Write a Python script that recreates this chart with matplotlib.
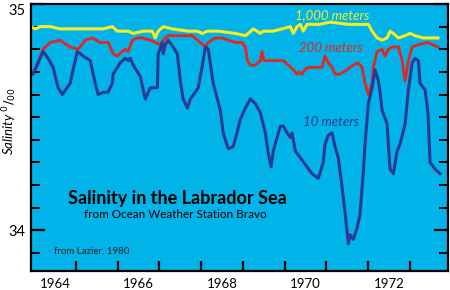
import numpy as np
import matplotlib.pyplot as plt

plt.rcParams['font.family'] = ['Lato', 'DejaVu Sans']

# 10 m series (year, salinity)
yr_10 = [1963.42, 1963.47, 1963.59, 1963.71, 1963.83, 1963.95, 1964.07, 1964.17, 1964.36, 1964.43,
         1964.53, 1964.67, 1964.84, 1964.96, 1965.03, 1965.15, 1965.27, 1965.37, 1965.39, 1965.56,
         1965.68, 1965.75, 1965.80, 1965.87, 1966.04, 1966.16, 1966.28, 1966.35, 1966.45, 1966.47,
         1966.57, 1966.59, 1966.64, 1966.71, 1966.83, 1966.93, 1967.00, 1967.07, 1967.17, 1967.24,
         1967.36, 1967.43, 1967.53, 1967.60, 1967.67, 1967.79, 1967.96, 1968.03, 1968.15, 1968.27,
         1968.36, 1968.44, 1968.56, 1968.68, 1968.80, 1968.92, 1969.04, 1969.11, 1969.18, 1969.23,
         1969.32, 1969.40, 1969.47, 1969.56, 1969.64, 1969.68, 1969.76, 1969.88, 1970.04, 1970.16,
         1970.31, 1970.43, 1970.47, 1970.55, 1970.64, 1970.71, 1970.79, 1970.88, 1970.95, 1971.03,
         1971.07, 1971.15, 1971.24, 1971.31, 1971.39, 1971.43, 1971.51, 1971.60, 1971.67, 1971.75,
         1971.79, 1971.84, 1971.96, 1971.99, 1972.03, 1972.11, 1972.20, 1972.27, 1972.39, 1972.47,
         1972.56, 1972.63, 1972.71, 1972.75, 1972.87, 1972.94, 1972.99, 1973.11, 1973.23]
sal_10 = [34.69, 34.69, 34.74, 34.79, 34.76, 34.72, 34.63, 34.60, 34.65, 34.71,
          34.79, 34.77, 34.75, 34.65, 34.60, 34.61, 34.61, 34.65, 34.69, 34.74,
          34.76, 34.75, 34.76, 34.73, 34.68, 34.58, 34.63, 34.63, 34.63, 34.78,
          34.83, 34.78, 34.82, 34.84, 34.81, 34.78, 34.66, 34.58, 34.54, 34.58,
          34.61, 34.63, 34.73, 34.81, 34.80, 34.65, 34.53, 34.43, 34.36, 34.37,
          34.43, 34.49, 34.54, 34.58, 34.56, 34.52, 34.43, 34.34, 34.28, 34.35,
          34.41, 34.46, 34.46, 34.43, 34.41, 34.43, 34.35, 34.32, 34.28, 34.25,
          34.23, 34.30, 34.38, 34.42, 34.43, 34.37, 34.32, 34.19, 34.08, 33.94,
          33.98, 33.96, 34.01, 34.07, 34.26, 34.38, 34.56, 34.63, 34.71, 34.66,
          34.61, 34.53, 34.47, 34.38, 34.27, 34.25, 34.35, 34.38, 34.47, 34.62,
          34.74, 34.76, 34.75, 34.65, 34.62, 34.52, 34.30, 34.27, 34.25]

# 200 m series
yr_200 = [1963.42, 1963.52, 1963.71, 1963.88, 1964.12, 1964.19, 1964.36, 1964.55, 1964.72, 1964.89,
          1965.08, 1965.27, 1965.39, 1965.49, 1965.61, 1965.68, 1965.75, 1965.85, 1965.97, 1966.09,
          1966.28, 1966.40, 1966.52, 1966.64, 1966.71, 1966.95, 1967.29, 1967.48, 1967.60, 1967.67,
          1967.84, 1968.00, 1968.15, 1968.32, 1968.48, 1968.56, 1968.61, 1968.68, 1968.80, 1968.92,
          1968.96, 1969.01, 1969.11, 1969.47, 1969.59, 1969.71, 1969.80, 1969.85, 1969.92, 1969.99,
          1970.07, 1970.28, 1970.40, 1970.47, 1970.55, 1970.64, 1970.71, 1970.83, 1971.00, 1971.15,
          1971.27, 1971.36, 1971.43, 1971.51, 1971.60, 1971.63, 1971.72, 1971.84, 1971.91, 1971.99,
          1972.08, 1972.23, 1972.32, 1972.39, 1972.47, 1972.56, 1972.71, 1972.92, 1973.06, 1973.18]
sal_200 = [34.69, 34.71, 34.80, 34.83, 34.84, 34.83, 34.81, 34.80, 34.84, 34.85,
           34.83, 34.83, 34.78, 34.77, 34.79, 34.80, 34.79, 34.84, 34.85, 34.85,
           34.84, 34.83, 34.82, 34.85, 34.86, 34.86, 34.86, 34.83, 34.81, 34.83,
           34.85, 34.85, 34.84, 34.83, 34.83, 34.81, 34.75, 34.73, 34.73, 34.75,
           34.79, 34.75, 34.75, 34.75, 34.73, 34.71, 34.69, 34.70, 34.69, 34.71,
           34.72, 34.72, 34.72, 34.77, 34.74, 34.72, 34.69, 34.69, 34.71, 34.73,
           34.74, 34.72, 34.65, 34.60, 34.65, 34.72, 34.79, 34.80, 34.77, 34.80,
           34.81, 34.81, 34.75, 34.66, 34.75, 34.81, 34.82, 34.83, 34.82, 34.81]

# 1,000 m series
yr_1000 = [1963.42, 1963.52, 1963.64, 1963.88, 1964.12, 1964.84, 1965.01, 1965.15, 1965.37, 1965.49,
           1965.61, 1965.75, 1965.87, 1966.11, 1966.33, 1966.40, 1966.47, 1966.59, 1966.81, 1967.19,
           1967.41, 1967.53, 1967.65, 1967.91, 1968.32, 1968.56, 1968.63, 1968.75, 1968.84, 1968.92,
           1968.99, 1969.11, 1969.23, 1969.44, 1969.64, 1969.71, 1969.80, 1969.88, 1969.95, 1970.04,
           1970.35, 1970.59, 1971.03, 1971.51, 1971.60, 1971.72, 1971.84, 1971.96, 1972.03, 1972.11,
           1972.23, 1972.39, 1972.51, 1972.63, 1972.82, 1973.18]
sal_1000 = [34.90, 34.89, 34.90, 34.90, 34.89, 34.89, 34.89, 34.89, 34.90, 34.88,
            34.88, 34.88, 34.87, 34.88, 34.88, 34.85, 34.88, 34.90, 34.89, 34.88,
            34.88, 34.87, 34.88, 34.88, 34.87, 34.86, 34.87, 34.89, 34.88, 34.87,
            34.88, 34.88, 34.88, 34.89, 34.90, 34.87, 34.90, 34.91, 34.88, 34.91,
            34.91, 34.92, 34.91, 34.91, 34.88, 34.85, 34.84, 34.85, 34.88, 34.87,
            34.85, 34.86, 34.87, 34.86, 34.85, 34.85]

year_labels = [1964, 1966, 1968, 1970, 1972]

bg = '#00B3E9'
yellow = '#F7EE1E'
red = '#E5261F'
navy = '#2B3A94'

fig = plt.figure(figsize=(4.5, 2.9), dpi=100)
ax = fig.add_axes([31/450, 19/290, 417/450, 267/290])
ax.set_facecolor(bg)

ax.plot(yr_1000, sal_1000, color=yellow, lw=2.2, solid_joinstyle='round')
ax.plot(yr_200, sal_200, color=red, lw=2.0, solid_joinstyle='round')
ax.plot(yr_10, sal_10, color=navy, lw=2.2, solid_joinstyle='round')

ax.set_xlim(1963.42, 1973.42)
ax.set_ylim(33.82, 35.0)

for s in ax.spines.values():
    s.set_linewidth(1.6)
    s.set_color('black')

# x axis: labels on even years, ticks at mid years
ax.set_xticks(year_labels)
ax.set_xticklabels([str(y) for y in year_labels], fontsize=9.5)
ax.set_xticks(np.arange(1964.5, 1973.0, 1.0), minor=True)
ax.tick_params(axis='x', which='major', length=0, pad=5)
ax.tick_params(axis='x', which='minor', direction='in', length=7, width=1.6)

# y axis
ax.set_yticks([34, 35])
ax.set_yticklabels(['34', '35'], fontsize=10.5)
ax.set_yticks(np.arange(33.9, 35.0, 0.1), minor=True)
ax.tick_params(axis='y', which='major', direction='in', length=10, width=1.6,
               right=True, pad=4)
ax.tick_params(axis='y', which='minor', direction='in', length=6.5, width=1.4,
               right=True)
ax.get_yticklabels()[1].set_va('top')

fig.text(10/450, 1 - 121/290, r'Salinity $^{0}/_{00}$', rotation=90,
         ha='center', va='center', fontsize=9.5, style='italic')

ax.text(1970.64, 34.951, '1,000 meters', color=yellow, fontsize=9.5,
        style='italic', ha='center', va='center')
ax.text(1970.62, 34.805, '200 meters', color=red, fontsize=9.5,
        style='italic', ha='center', va='center')
ax.text(1970.62, 34.478, '10 meters', color=navy, fontsize=9.5,
        style='italic', ha='center', va='center')

ax.text(1964.31, 34.142, 'Salinity in the Labrador Sea', fontsize=13,
        fontweight='bold', ha='left', va='center')
ax.text(1964.70, 34.071, 'from Ocean Weather Station Bravo', fontsize=8.4,
        ha='left', va='center')
ax.text(1963.98, 33.907, 'from Lazier, 1980', fontsize=7,
        ha='left', va='center', color='#222222')

fig.savefig('out.png', dpi=100)
